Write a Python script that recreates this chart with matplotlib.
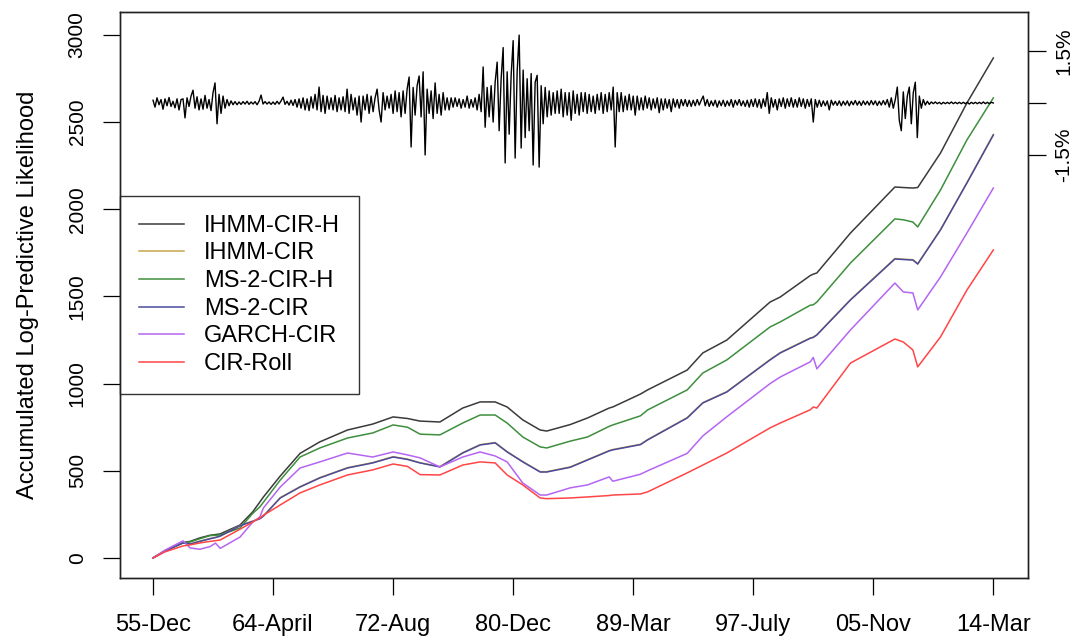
import numpy as np
import matplotlib
matplotlib.use("Agg")
import matplotlib.pyplot as plt

plt.rcParams['font.family'] = ['Liberation Sans', 'DejaVu Sans']

# time axis in tick units (0 = 55-Dec ... 7 = 14-Mar)
t = [0.00, 0.10, 0.25, 0.31, 0.39, 0.475, 0.52, 0.56, 0.725, 0.83, 0.89, 0.92,
     1.06, 1.225, 1.39, 1.62, 1.83, 2.00, 2.12, 2.225, 2.39, 2.58, 2.725, 2.85,
     2.95, 3.08, 3.225, 3.28, 3.475, 3.62, 3.80, 3.83, 4.06, 4.12, 4.45, 4.58,
     4.78, 5.14, 5.225, 5.475, 5.50, 5.53, 5.81, 6.18, 6.25, 6.33, 6.37, 6.56,
     6.78, 7.00]
tick_labels = ['55-Dec', '64-April', '72-Aug', '80-Dec', '89-Mar', '97-July',
               '05-Nov', '14-Mar']

ihmm_cir_h = [0, 40, 88, 95, 115, 130, 134, 138, 189, 264, 321, 350,
              470, 600, 666, 734, 768, 809, 800, 785, 780, 860, 895, 895,
              866, 792, 734, 728, 765, 803, 860, 866, 940, 964, 1078, 1176,
              1250, 1468, 1497, 1620, 1628, 1635, 1864, 2128, 2125, 2122, 2125, 2323,
              2610, 2868]
ihmm_cir = [0, 41, 87, 81, 96, 111, 118, 126, 186, 211, 226, 242,
            346, 409, 461, 518, 547, 581, 567, 546, 524, 604, 650, 662,
            610, 553, 495, 495, 522, 564, 616, 622, 652, 679, 805, 891,
            954, 1138, 1178, 1262, 1267, 1281, 1482, 1718, 1714, 1711, 1688, 1884,
            2153, 2430]
ms2_cir_h = [0, 42, 86, 92, 110, 128, 130, 132, 172, 255, 293, 320,
             447, 579, 631, 688, 717, 763, 750, 710, 706, 774, 820, 820,
             774, 694, 637, 631, 670, 694, 755, 763, 815, 849, 964, 1061,
             1136, 1325, 1354, 1450, 1452, 1468, 1692, 1945, 1940, 1927, 1899, 2111,
             2398, 2639]
ms2_cir = [0, 40, 86, 80, 95, 110, 117, 125, 185, 210, 225, 240,
           344, 407, 459, 516, 545, 579, 565, 545, 522, 602, 648, 660,
           608, 551, 493, 493, 520, 562, 614, 620, 650, 677, 803, 889,
           952, 1136, 1176, 1260, 1265, 1279, 1480, 1715, 1712, 1709, 1686, 1882,
           2151, 2426]
garch_cir = [0, 45, 98, 57, 50, 65, 85, 55, 120, 205, 235, 287,
             407, 516, 551, 602, 579, 608, 591, 574, 522, 579, 608, 585,
             551, 430, 361, 361, 402, 419, 465, 440, 480, 500, 600, 700,
             810, 1000, 1038, 1125, 1150, 1085, 1308, 1577, 1526, 1520, 1423, 1612,
             1864, 2122]
cir_roll = [0, 35, 69, 75, 86, 95, 99, 103, 165, 206, 230, 245,
            304, 373, 419, 476, 505, 539, 525, 478, 476, 533, 551, 545,
            476, 419, 344, 340, 344, 350, 358, 361, 367, 379, 488, 533,
            602, 746, 774, 850, 866, 860, 1118, 1256, 1239, 1193, 1096, 1268,
            1537, 1767]

returns = [
    0.08, -0.12, 0.15, -0.05, 0.1, -0.18, 0.12, -0.08, 0.16, -0.1, 0.05, -0.14, 0.12, -0.2, 0.1,
    0.12, -0.43, 0.15, -0.1, 0.2, 0.37, -0.15, 0.18, -0.2, 0.12, -0.18, 0.22, -0.15, 0.1, -0.22,
    0.3, 0.58, -0.6, 0.25, -0.3, 0.2, -0.15, 0.1, -0.08, 0.06, -0.05, 0.04, -0.05, 0.03, -0.04,
    0.04, -0.03, 0.05, -0.04, 0.03, -0.03, 0.04, -0.05, 0.05, 0.23, -0.03, 0.04, -0.03, 0.03, -0.04,
    0.03, -0.04, 0.05, -0.03, 0.06, 0.17, -0.04, 0.05, -0.06, 0.08, -0.07, 0.1, -0.12, 0.12, -0.15,
    0.15, -0.2, 0.12, -0.22, 0.18, -0.15, 0.25, -0.2, 0.46, -0.25, 0.22, -0.3, 0.2, -0.18, 0.15,
    -0.2, 0.22, -0.25, 0.15, -0.2, 0.18, -0.25, 0.4, -0.3, 0.25, -0.2, 0.15, -0.35, 0.2, -0.55,
    0.2, -0.2, 0.25, -0.3, 0.2, -0.25, 0.15, 0.4, -0.2, -0.55, 0.3, -0.2, 0.2, -0.15, 0.25,
    -0.3, 0.35, -0.25, 0.3, -0.4, 0.35, -0.3, 0.4, 0.75, -1.27, 0.45, -0.35, 0.5, 0.78, -0.4,
    0.9, -1.5, 0.4, -0.3, 0.35, -0.45, 0.58, -0.3, 0.25, -0.35, 0.3, -0.2, 0.15, -0.2, 0.15,
    -0.12, 0.15, -0.1, 0.12, -0.15, 0.1, -0.12, 0.2, -0.15, 0.1, -0.12, 0.15, -0.2, 0.25, -0.25,
    1.04, -0.7, 0.45, -0.4, 0.5, -0.55, 0.6, 1.18, -0.8, 0.7, 1.6, -1.73, 0.9, -0.9, 0.8,
    1.8, -1.59, 0.9, 1.96, -1.3, 0.95, -1.0, 0.7, -0.8, 0.85, -1.79, 0.6, 0.8, -1.85, 0.5,
    -0.6, 0.45, -0.4, 0.35, -0.35, 0.3, -0.3, 0.35, -0.3, 0.4, -0.4, 0.3, -0.35, 0.3, -0.5,
    0.35, -0.3, 0.25, -0.35, 0.3, -0.25, 0.3, -0.3, 0.25, -0.25, 0.2, -0.3, 0.25, -0.2, 0.3,
    -0.3, 0.25, -0.25, 0.3, -0.2, 0.46, -1.27, 0.3, -0.25, 0.3, -0.25, 0.2, -0.2, 0.25, -0.2,
    0.2, -0.35, 0.2, -0.2, 0.15, -0.2, 0.2, -0.15, 0.15, -0.2, 0.12, -0.15, 0.15, -0.28, 0.12,
    -0.2, 0.12, -0.15, 0.1, -0.25, 0.12, -0.12, 0.1, -0.15, 0.1, -0.08, 0.1, -0.1, 0.08, -0.1,
    0.08, -0.08, 0.1, -0.06, 0.08, 0.2, -0.08, 0.1, -0.1, 0.06, -0.08, 0.08, -0.12, 0.06, -0.08,
    0.08, -0.1, 0.06, -0.08, 0.1, -0.12, 0.08, -0.06, 0.1, -0.08, 0.06, -0.1, 0.08, -0.12, 0.1,
    -0.1, 0.12, -0.12, 0.1, -0.15, 0.12, -0.1, 0.3, -0.3, 0.15, -0.12, 0.1, -0.2, 0.12, -0.1,
    0.15, -0.15, 0.12, -0.1, 0.15, -0.12, 0.1, -0.12, 0.15, -0.1, 0.12, -0.15, 0.1, -0.1, 0.12,
    -0.55, 0.1, -0.12, 0.08, -0.1, 0.06, -0.08, 0.06, -0.2, 0.08, -0.06, 0.05, -0.07, 0.06, -0.08,
    0.05, -0.06, 0.06, -0.08, 0.05, -0.05, 0.07, -0.06, 0.05, -0.07, 0.06, -0.05, 0.05, -0.06, 0.07,
    -0.05, 0.06, -0.07, 0.05, -0.06, 0.07, -0.05, 0.1, -0.12, 0.15, -0.15, 0.1, 0.46, -0.5, -0.8,
    0.32, -0.45, 0.2, 0.46, -0.6, 0.3, 0.6, -1.0, 0.2, -0.15, 0.1, -0.06, 0.05, -0.04, 0.03,
    -0.02, 0.03, -0.02, 0.02, -0.03, 0.02, -0.02, 0.02, -0.02, 0.03, -0.02, 0.02, -0.02, 0.02, -0.02,
    0.02, -0.02, 0.02, -0.03, 0.02, -0.02, 0.02, -0.02, 0.02, -0.02, 0.03, -0.02, 0.02, -0.02, 0.02,
    0.0,
]
t_ret = np.linspace(0, 7, len(returns))

series = [
    ('IHMM-CIR-H', ihmm_cir_h, '#3a3a3a'),
    ('IHMM-CIR', ihmm_cir, '#c9a64e'),
    ('MS-2-CIR-H', ms2_cir_h, '#3d8f3d'),
    ('MS-2-CIR', ms2_cir, '#4a4a9c'),
    ('GARCH-CIR', garch_cir, '#b565f2'),
    ('CIR-Roll', cir_roll, '#ff4545'),
]

fig = plt.figure(figsize=(10.85, 6.41), dpi=100)
ax = fig.add_axes([0.1106, 0.0983, 0.837, 0.883])

for name, vals, col in series:
    ax.plot(t, vals, color=col, lw=1.1, label=name)

ax.set_xlim(-0.275, 7.29)
ax.set_ylim(-115, 3132)
ax.set_xticks(range(8))
ax.set_xticklabels(tick_labels, fontsize=17)
ax.set_yticks(range(0, 3001, 500))
ax.set_yticklabels([str(v) for v in range(0, 3001, 500)], rotation=90,
                   va='center', ha='right', fontsize=15)
ax.tick_params(axis='x', length=12, pad=14, width=0.9)
ax.tick_params(axis='y', length=12, pad=12, width=0.9)
ax.set_ylabel('Accumulated Log-Predictive Likelihood', fontsize=17, labelpad=21)
for sp in ax.spines.values():
    sp.set_linewidth(1.0)
    sp.set_color('#222222')

leg = ax.legend(loc='center left', bbox_to_anchor=(0, 0.5), borderaxespad=0,
                fontsize=17, fancybox=False, framealpha=1, edgecolor='#333333',
                handlelength=1.9, handletextpad=0.85, borderpad=0.8,
                labelspacing=0.24)
leg.get_frame().set_linewidth(1.0)

# rate changes on a secondary scale
ax2 = ax.twinx()
ax2.plot(t_ret, returns, color='black', lw=1.0)
ax2.set_ylim(-13.71, 2.627)
ax2.set_yticks([-1.5, 0, 1.5])
ax2.set_yticklabels(['-1.5%', '', '1.5%'], rotation=90, va='center',
                    ha='left', fontsize=15)
ax2.tick_params(axis='y', length=13, pad=6, width=0.9)
for sp in ax2.spines.values():
    sp.set_linewidth(1.0)
    sp.set_color('#222222')

fig.savefig('out.png', dpi=100)
